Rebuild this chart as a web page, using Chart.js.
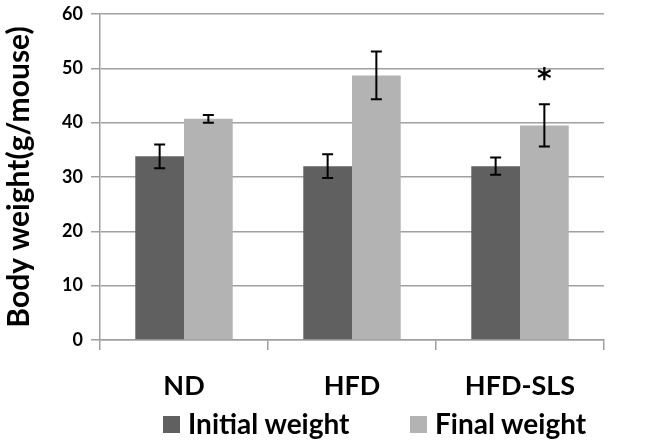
<!DOCTYPE html>
<html>
<head>
<meta charset="utf-8">
<script src="https://cdn.jsdelivr.net/npm/chart.js@4.4.1/dist/chart.umd.min.js"></script>
<style>
  html, body { margin: 0; padding: 0; background: #fff; }
  #wrap { position: relative; width: 659px; height: 440px; overflow: hidden; }
  .leg { position: absolute; top: 409px; font: bold 28px Lato, sans-serif; line-height: 28px; color: #000; display: flex; align-items: center; }
  .leg span.box { display: inline-block; width: 17px; height: 17px; margin-right: 8px; margin-top: 2px; }
</style>
</head>
<body>
<div id="wrap">
  <canvas id="bwChart" width="659" height="440"></canvas>
  <div class="leg" style="left:163px"><span class="box" style="background:#606060"></span>Initial weight</div>
  <div class="leg" style="left:410px"><span class="box" style="background:#b3b3b3"></span>Final weight</div>
</div>
<script>
const groups = ['ND', 'HFD', 'HFD-SLS'];
const initialWeight = [33.8, 32.0, 32.0];
const initialErr = [2.2, 2.2, 1.6];
const finalWeight = [40.7, 48.7, 39.5];
const finalErr = [0.7, 4.4, 3.9];
const finalMark = ['', '', '*'];

const fontFam = 'Lato, sans-serif';

// error bars + significance marks
const errorBars = {
    id: 'errorBars',
    afterDatasetsDraw(chart) {
        const ctx = chart.ctx;
        const y = chart.scales.y;
        chart.data.datasets.forEach((ds, i) => {
            const meta = chart.getDatasetMeta(i);
            meta.data.forEach((bar, j) => {
                const v = ds.data[j];
                const e = ds.errors[j];
                const top = y.getPixelForValue(v + e);
                const bot = y.getPixelForValue(v - e);
                ctx.save();
                ctx.strokeStyle = '#000';
                ctx.lineWidth = 2;
                ctx.beginPath();
                ctx.moveTo(bar.x, top); ctx.lineTo(bar.x, bot);
                ctx.moveTo(bar.x - 5.5, top); ctx.lineTo(bar.x + 5.5, top);
                ctx.moveTo(bar.x - 5.5, bot); ctx.lineTo(bar.x + 5.5, bot);
                ctx.stroke();
                if (ds.marks && ds.marks[j]) {
                    ctx.fillStyle = '#000';
                    ctx.font = 'bold 28px "DejaVu Sans", sans-serif';
                    ctx.textAlign = 'center';
                    ctx.textBaseline = 'alphabetic';
                    ctx.fillText(ds.marks[j], bar.x, y.getPixelForValue(v + e + 5.5) + 14);
                }
                ctx.restore();
            });
        });
    }
};

const ctx = document.getElementById('bwChart').getContext('2d');
new Chart(ctx, {
    type: 'bar',
    data: {
        labels: groups,
        datasets: [{
            label: 'Initial weight',
            data: initialWeight,
            errors: initialErr,
            backgroundColor: '#606060',
            categoryPercentage: 0.58,
            barPercentage: 1.0
        }, {
            label: 'Final weight',
            data: finalWeight,
            errors: finalErr,
            marks: finalMark,
            backgroundColor: '#b3b3b3',
            categoryPercentage: 0.58,
            barPercentage: 1.0
        }]
    },
    options: {
        responsive: false,
        animation: false,
        layout: { padding: { top: 14, right: 55, left: 0, bottom: 0 } },
        plugins: {
            legend: { display: false },
            tooltip: { enabled: false }
        },
        scales: {
            x: {
                offset: true,
                grid: { display: true, drawOnChartArea: false, tickLength: 10, color: '#a0a0a0', lineWidth: 1.5 },
                border: { color: '#a0a0a0', width: 1.5 },
                ticks: { color: '#000', font: { family: fontFam, size: 27, weight: 'bold' }, padding: 20 },
                afterFit(s) { s.height = 100; }
            },
            y: {
                min: 0,
                max: 60,
                ticks: { stepSize: 10, color: '#000', font: { family: fontFam, size: 18, weight: 'bold' }, padding: 8 },
                grid: { color: '#a0a0a0', lineWidth: 1.5, tickLength: 9 },
                border: { color: '#a0a0a0', width: 1.5 },
                title: {
                    display: true,
                    text: 'Body weight(g/mouse)',
                    color: '#000',
                    font: { family: fontFam, size: 30, weight: 'bold' },
                    padding: { top: 1, bottom: 0 }
                },
                afterFit(s) { s.width = 100; s.paddingTop = 0; s.paddingBottom = 0; }
            }
        }
    },
    plugins: [errorBars]
});
</script>
</body>
</html>
